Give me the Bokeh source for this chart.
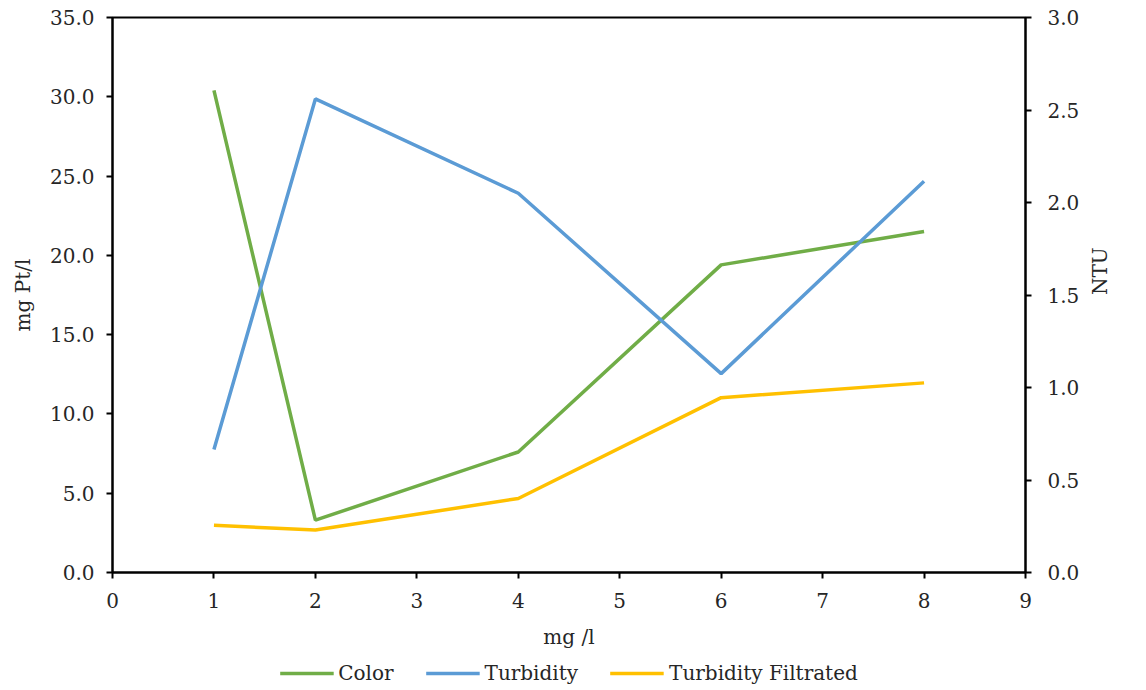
import math
from bokeh.plotting import figure
from bokeh.layouts import column
from bokeh.models import (Range1d, LinearAxis, FixedTicker,
                          NumeralTickFormatter, Legend, LegendItem)
from bokeh.embed import file_html
from bokeh.resources import INLINE

# Coagulant dose (mg/l)
dose = [1, 2, 4, 6, 8]
# Colour in mg Pt/l (left axis)
color_vals = [30.4, 3.3, 7.6, 19.4, 21.5]
# Turbidity in NTU (right axis)
turbidity = [0.665, 2.56, 2.05, 1.075, 2.115]
turbidity_filtrated = [0.255, 0.23, 0.40, 0.945, 1.025]

series_names = ["Color", "Turbidity", "Turbidity Filtrated"]
series_colors = ["#70AD47", "#5B9BD5", "#FFC000"]

x_ticks = [0, 1, 2, 3, 4, 5, 6, 7, 8, 9]
left_ticks = [0, 5, 10, 15, 20, 25, 30, 35]
right_ticks = [0, 0.5, 1.0, 1.5, 2.0, 2.5, 3.0]

FONT = "DejaVu Serif"
TXT = "#262626"

p = figure(frame_width=913, frame_height=555, output_backend="svg",
           toolbar_location=None,
           x_range=Range1d(0, 9), y_range=Range1d(0, 35),
           min_border_left=112, min_border_right=121, min_border_top=17,
           min_border_bottom=84)
p.extra_y_ranges = {"ntu": Range1d(0, 3)}

p.xgrid.visible = False
p.ygrid.visible = False
p.outline_line_color = "black"
p.outline_line_width = 2
p.background_fill_color = "white"
p.border_fill_color = "white"

right_axis = LinearAxis(y_range_name="ntu")
p.add_layout(right_axis, "right")

p.xaxis.ticker = FixedTicker(ticks=x_ticks)
p.yaxis[0].ticker = FixedTicker(ticks=left_ticks)
right_axis.ticker = FixedTicker(ticks=right_ticks)
p.yaxis[0].formatter = NumeralTickFormatter(format="0.0")
right_axis.formatter = NumeralTickFormatter(format="0.0")

p.xaxis.axis_label = "mg /l"
p.yaxis[0].axis_label = "mg Pt/l"
right_axis.axis_label = "NTU"
right_axis.axis_label_orientation = math.pi / 2

for ax in [p.xaxis[0], p.yaxis[0], right_axis]:
    ax.axis_line_color = "black"
    ax.axis_line_width = 2
    ax.major_tick_line_color = "black"
    ax.major_tick_line_width = 2
    ax.major_tick_out = 6
    ax.major_tick_in = 0
    ax.minor_tick_line_color = None
    ax.major_label_text_font = FONT
    ax.major_label_text_font_size = "20px"
    ax.major_label_text_color = TXT
    ax.axis_label_text_font = FONT
    ax.axis_label_text_font_size = "20px"
    ax.axis_label_text_font_style = "normal"
    ax.axis_label_text_color = TXT

p.xaxis.major_label_standoff = 14
p.yaxis[0].major_label_standoff = 12
right_axis.major_label_standoff = 16
p.xaxis.axis_label_standoff = 14
p.yaxis[0].axis_label_standoff = 12
right_axis.axis_label_standoff = 18

p.line(dose, color_vals, line_color=series_colors[0], line_width=3.5)
p.line(dose, turbidity, line_color=series_colors[1], line_width=3.5,
       y_range_name="ntu")
p.line(dose, turbidity_filtrated, line_color=series_colors[2], line_width=3.5,
       y_range_name="ntu")

# Legend strip under the chart: same series, drawn off-view so only the
# legend entries show.
leg = figure(width=1146, height=34, output_backend="svg", toolbar_location=None,
             x_range=Range1d(-10, -9), y_range=Range1d(-10, -9),
             min_border=0, x_axis_type=None, y_axis_type=None)
leg.xgrid.visible = False
leg.ygrid.visible = False
leg.outline_line_color = None
leg.background_fill_color = "white"
leg.border_fill_color = "white"

items = []
for name, col, vals in zip(series_names, series_colors,
                           [color_vals, turbidity, turbidity_filtrated]):
    r = leg.line(dose, vals, line_color=col, line_width=3.5)
    items.append(LegendItem(label=name, renderers=[r]))

legend = Legend(items=items, orientation="horizontal", location="center")
legend.label_text_font = FONT
legend.label_text_font_size = "20px"
legend.label_text_color = TXT
legend.glyph_width = 54
legend.label_standoff = 5
legend.spacing = 32
legend.padding = 0
legend.margin = 0
legend.border_line_color = None
legend.background_fill_alpha = 0
leg.add_layout(legend, "center")

open("out.html", "w").write(file_html(column(p, leg, spacing=0), INLINE))
